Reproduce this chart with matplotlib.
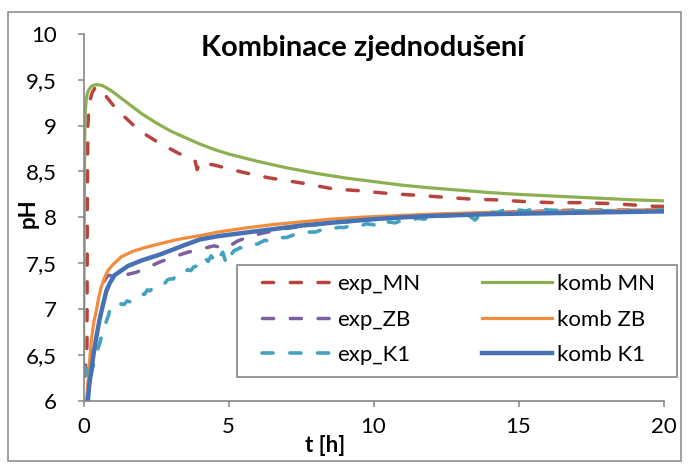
import matplotlib
matplotlib.use('Agg')
import matplotlib.pyplot as plt
from matplotlib.patches import Rectangle

plt.rcParams['font.family'] = ['Lato', 'DejaVu Sans']
plt.rcParams['lines.scale_dashes'] = False

# exp_MN (measured, red dashed)
T_EXP_MN = [0.05, 0.12, 0.13, 0.15, 0.2, 0.3, 0.4, 0.5, 0.75, 1.0, 1.25, 1.5, 1.9, 2.45, 3.2,
            3.85, 3.92, 4.0, 4.5, 5.5, 6.4, 7.6, 8.6, 9.5, 10.5, 11.5, 12.4, 13.3, 14.25,
            15.3, 16.2, 17.1, 18.2, 18.7, 19.7, 20.0]
PH_EXP_MN = [6.27, 6.6, 8.0, 9.0, 9.25, 9.36, 9.41, 9.42, 9.33, 9.23, 9.14, 9.07, 8.95, 8.84, 8.71,
             8.61, 8.52, 8.60, 8.57, 8.49, 8.43, 8.37, 8.31, 8.29, 8.26, 8.24, 8.22, 8.20, 8.19,
             8.17, 8.16, 8.16, 8.15, 8.14, 8.12, 8.12]

# komb MN (model, green)
T_KOMB_MN = [0.0, 0.02, 0.04, 0.06, 0.1, 0.15, 0.25, 0.35, 0.48, 0.65, 0.8, 1.0, 1.25, 1.5, 1.75,
             2.0, 2.5, 3.0, 3.5, 4.0, 4.5, 5.0, 6.0, 7.0, 8.0, 9.0, 10, 11, 12, 13, 14, 15, 16,
             17, 18, 19, 20]
PH_KOMB_MN = [6.45, 7.6, 8.8, 9.15, 9.3, 9.37, 9.42, 9.44, 9.445, 9.435, 9.41, 9.37, 9.31, 9.25,
              9.19, 9.13, 9.03, 8.94, 8.87, 8.80, 8.74, 8.69, 8.61, 8.54, 8.48, 8.43, 8.39, 8.35,
              8.32, 8.295, 8.27, 8.25, 8.235, 8.22, 8.205, 8.19, 8.18]

# exp_ZB (measured, purple dashed)
T_EXP_ZB = [0.7, 0.85, 1.0, 1.4, 1.8, 2.2, 2.6, 3.1, 3.6, 4.0, 4.5, 4.9, 5.3, 5.7, 6.2, 7, 8, 9,
            10, 11, 12, 13, 14, 15, 16, 17, 18, 19, 20]
PH_EXP_ZB = [7.3, 7.37, 7.36, 7.37, 7.40, 7.45, 7.51, 7.57, 7.62, 7.65, 7.69, 7.66, 7.74, 7.79,
             7.83, 7.88, 7.92, 7.95, 7.98, 8.0, 8.02, 8.03, 8.05, 8.06, 8.07, 8.08, 8.08, 8.08, 8.08]

# komb ZB (model, orange)
T_KOMB_ZB = [0.1, 0.13, 0.2, 0.27, 0.35, 0.44, 0.52, 0.61, 0.72, 0.84, 1.0, 1.3, 1.7, 2.11, 2.6,
             3.26, 4.0, 4.64, 5.5, 6.5, 7.47, 8.5, 9.5, 10.9, 12, 13, 14, 15, 16, 17, 18, 19, 20]
PH_KOMB_ZB = [6.0, 6.1, 6.4, 6.66, 6.85, 6.98, 7.12, 7.24, 7.34, 7.42, 7.48, 7.57, 7.63, 7.67, 7.71,
              7.76, 7.80, 7.84, 7.88, 7.92, 7.95, 7.98, 8.0, 8.02, 8.035, 8.045, 8.055, 8.06,
              8.065, 8.07, 8.075, 8.08, 8.085]

# exp_K1 (measured, teal dashed, noisy)
T_EXP_K1 = [0.0, 0.05, 0.1, 0.15, 0.2, 0.25, 0.3, 0.35, 0.4, 0.45, 0.5, 0.55, 0.6, 0.65, 0.7,
            0.75, 0.8, 0.85, 0.9, 0.95,
            1.0, 1.1, 1.2, 1.3, 1.4, 1.5, 1.6, 1.7, 1.8, 1.9, 2.0, 2.1, 2.2, 2.3, 2.4, 2.5,
            2.6, 2.7, 2.8, 2.9, 3.0, 3.1, 3.2, 3.3, 3.4, 3.5, 3.6, 3.7, 3.8, 3.9, 4.0, 4.1,
            4.2, 4.3, 4.4, 4.5, 4.6, 4.7, 4.8, 4.9, 5.0, 5.1, 5.2, 5.3, 5.4, 5.5,
            5.75, 6.0, 6.25, 6.5, 6.75, 7.0, 7.25, 7.5, 7.75, 8.0, 8.25, 8.5, 8.75, 9.0,
            9.25, 9.5, 9.75, 10.0, 10.25, 10.5, 10.75, 11.0, 11.25, 11.5, 11.75, 12.0,
            12.25, 12.5, 12.75, 13.0, 13.25, 13.5, 13.75, 14.0, 14.25, 14.5, 14.75, 15.0,
            15.25, 15.5, 15.75, 16.0, 17, 18, 19, 20]
PH_EXP_K1 = [6.42, 6.20, 6.36, 6.24, 6.30, 6.27, 6.35, 6.40, 6.44, 6.52, 6.57, 6.62, 6.68, 6.72,
             6.78, 6.83, 6.88, 6.92, 6.98, 7.00,
             6.99, 7.03, 7.02, 7.06, 7.05, 7.09, 7.08, 7.12, 7.13, 7.15, 7.17, 7.16, 7.21, 7.20,
             7.24, 7.25, 7.27, 7.29, 7.28, 7.32, 7.33, 7.33, 7.37, 7.36, 7.40, 7.41, 7.43, 7.42,
             7.46, 7.47, 7.51, 7.49, 7.55, 7.52, 7.58, 7.54, 7.61, 7.57, 7.62, 7.52, 7.63, 7.60,
             7.64, 7.65, 7.67, 7.66,
             7.70, 7.71, 7.75, 7.74, 7.78, 7.78, 7.81, 7.81, 7.84, 7.84, 7.87, 7.86, 7.89, 7.89,
             7.91, 7.90, 7.93, 7.92, 7.89, 7.95, 7.94, 7.97, 7.96, 7.99, 7.98, 8.01,
             8.00, 8.02, 8.02, 8.04, 8.03, 7.97, 8.05, 8.06, 8.05, 8.08, 8.06, 8.08,
             8.07, 8.09, 8.11, 8.08, 8.07, 8.07, 8.07, 8.08]

# komb K1 (model, blue)
T_KOMB_K1 = [0.15, 0.2, 0.27, 0.35, 0.44, 0.55, 0.65, 0.79, 0.9, 1.07, 1.3, 1.53, 2.0, 2.68, 3.5,
             4.02, 4.64, 5.5, 6.5, 7.5, 8.5, 10, 11, 12, 13, 14, 15, 16, 17, 18, 19, 20]
PH_KOMB_K1 = [6.0, 6.18, 6.33, 6.52, 6.69, 6.88, 7.02, 7.2, 7.28, 7.37, 7.42, 7.47, 7.53, 7.60, 7.70,
              7.76, 7.795, 7.83, 7.87, 7.91, 7.94, 7.98, 8.0, 8.015, 8.025, 8.035, 8.04, 8.045,
              8.05, 8.055, 8.06, 8.065]

Y_TICKS = [6, 6.5, 7, 7.5, 8, 8.5, 9, 9.5, 10]
Y_LABELS = ['6', '6,5', '7', '7,5', '8', '8,5', '9', '9,5', '10']
X_TICKS = [0, 5, 10, 15, 20]

RED = '#B8443F'
GREEN = '#8CB050'
PURPLE = '#7D5FA0'
TEAL = '#43A3BC'
ORANGE = '#F08C3C'
BLUE = '#4672B5'
GREY = '#868686'

W, H = 689, 466
fig = plt.figure(figsize=(W / 100, H / 100), dpi=100)
ax = fig.add_axes([83.5 / W, 1 - 401 / H, 580 / W, 367.3 / H])

dash = (0, (8.0, 12.0))
l_exp_mn, = ax.plot(T_EXP_MN, PH_EXP_MN, color=RED, lw=2.5, linestyle=dash, dash_capstyle='round')
l_komb_mn, = ax.plot(T_KOMB_MN, PH_KOMB_MN, color=GREEN, lw=2.3)
l_exp_zb, = ax.plot(T_EXP_ZB, PH_EXP_ZB, color=PURPLE, lw=2.5, linestyle=dash, dash_capstyle='round')
l_komb_zb, = ax.plot(T_KOMB_ZB, PH_KOMB_ZB, color=ORANGE, lw=2.3)
l_exp_k1, = ax.plot(T_EXP_K1, PH_EXP_K1, color=TEAL, lw=2.6, linestyle=dash, dash_capstyle='round')
l_komb_k1, = ax.plot(T_KOMB_K1, PH_KOMB_K1, color=BLUE, lw=3.2)

ax.set_xlim(0, 20)
ax.set_ylim(6, 10)
ax.set_xticks(X_TICKS)
ax.set_yticks(Y_TICKS)
ax.set_yticklabels(Y_LABELS)
ax.tick_params(axis='both', direction='out', length=4.5, width=1.1, color=GREY, labelsize=16)
ax.tick_params(axis='y', pad=14.5)
ax.tick_params(axis='x', pad=7)
for s in ['top', 'right']:
    ax.spines[s].set_visible(False)
for s in ['left', 'bottom']:
    ax.spines[s].set_color(GREY)
    ax.spines[s].set_linewidth(1.2)

fig.text(363 / W, 1 - 48 / H, 'Kombinace zjednodušení', ha='center', va='center',
         fontsize=21, fontweight='bold')
fig.text(28 / W, 1 - 213 / H, 'pH', rotation=90, ha='center', va='center',
         fontsize=16, fontweight='bold')
fig.text(325 / W, 1 - 446 / H, 't [h]', ha='center', va='center',
         fontsize=16, fontweight='bold')

# legend frame
ax.add_patch(Rectangle((237 / W, 1 - 377 / H), 440 / W, 112 / H, transform=fig.transFigure,
                       facecolor='white', edgecolor=GREY, lw=1.2, clip_on=False, zorder=4))

leg_kw = dict(frameon=False, borderpad=0, borderaxespad=0, handlelength=3.15,
              handletextpad=0.22, labelspacing=0.7, fontsize=16, loc='upper left',
              bbox_transform=fig.transFigure)
leg1 = ax.legend([l_exp_mn, l_exp_zb, l_exp_k1], ['exp_MN', 'exp_ZB', 'exp_K1'],
                 bbox_to_anchor=(262 / W, 1 - 274 / H), **leg_kw)
leg1.set_zorder(5)
ax.add_artist(leg1)
leg2 = ax.legend([l_komb_mn, l_komb_zb, l_komb_k1], ['komb MN', 'komb ZB', 'komb K1'],
                 bbox_to_anchor=(482 / W, 1 - 274 / H), **leg_kw)
leg2.set_zorder(5)

# chart area border
fig.patches.append(Rectangle((8 / W, 1 - 461 / H), 673 / W, 449 / H, transform=fig.transFigure,
                             facecolor='none', edgecolor=GREY, lw=1.1))

fig.savefig('out.png', dpi=100)
